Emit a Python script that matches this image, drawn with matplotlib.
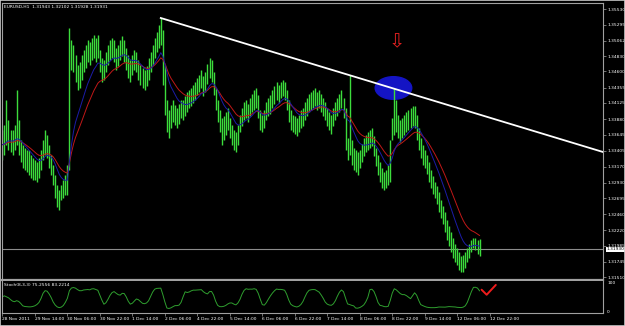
import numpy as np
import pandas as pd
import matplotlib
matplotlib.use('Agg')
import matplotlib.pyplot as plt
from matplotlib.patches import Ellipse
import matplotlib.transforms as mtransforms

# EURUSD H1 bars, prices in pips above 1.3000
high_pips = [
    372, 380, 417, 387, 372, 372, 380, 432, 387, 357, 350, 345, 342, 342, 335, 330,
    327, 324, 330, 342, 357, 372, 365, 350, 335, 320, 305, 290, 282, 290, 297, 305,
    320, 525, 507, 500, 485, 470, 474, 485, 492, 500, 507, 504, 510, 515, 510, 515,
    492, 480, 477, 489, 500, 507, 510, 507, 495, 500, 507, 513, 507, 495, 485, 477,
    485, 492, 489, 477, 470, 465, 462, 468, 480, 489, 500, 510, 519, 530, 540, 522,
    470, 417, 402, 410, 417, 410, 405, 411, 417, 417, 423, 429, 432, 435, 440, 444,
    450, 455, 462, 453, 459, 471, 480, 477, 459, 435, 417, 402, 390, 393, 399, 405,
    390, 380, 372, 369, 380, 395, 405, 414, 417, 411, 420, 426, 432, 435, 425, 402,
    395, 402, 414, 420, 425, 432, 438, 444, 440, 444, 447, 444, 432, 417, 402, 395,
    393, 390, 395, 402, 405, 414, 420, 426, 429, 432, 435, 429, 432, 426, 420, 414,
    405, 399, 395, 405, 414, 420, 426, 432, 420, 405, 360, 455, 357, 345, 342, 339,
    342, 351, 360, 365, 369, 372, 375, 363, 345, 335, 324, 315, 309, 312, 320, 357,
    390, 435, 417, 395, 387, 390, 395, 399, 402, 405, 408, 408, 395, 375, 360, 350,
    342, 335, 324, 312, 303, 294, 288, 279, 267, 258, 249, 237, 228, 219, 210, 201,
    195, 189, 183, 185, 189, 195, 201, 207, 210, 210, 207, 208,
]
low_pips = [
    327, 335, 350, 342, 339, 335, 342, 350, 335, 324, 315, 312, 309, 305, 300, 297,
    297, 294, 300, 312, 327, 335, 330, 315, 305, 290, 270, 256, 252, 267, 270, 275,
    275, 312, 462, 459, 444, 432, 435, 447, 459, 465, 474, 470, 477, 480, 474, 480,
    459, 444, 447, 459, 470, 477, 480, 474, 462, 468, 477, 483, 474, 462, 450, 444,
    455, 462, 459, 447, 440, 435, 432, 438, 447, 459, 470, 480, 489, 495, 500, 440,
    395, 369, 360, 375, 384, 380, 375, 381, 390, 387, 393, 399, 405, 408, 413, 417,
    425, 429, 435, 423, 429, 441, 450, 444, 425, 402, 384, 369, 350, 357, 365, 372,
    360, 350, 342, 339, 350, 369, 378, 387, 390, 384, 393, 399, 402, 405, 390, 372,
    369, 375, 387, 393, 396, 405, 411, 417, 413, 420, 423, 417, 402, 384, 372, 369,
    366, 363, 369, 375, 378, 387, 393, 399, 402, 405, 408, 402, 405, 399, 393, 387,
    378, 372, 366, 378, 387, 393, 399, 405, 390, 342, 327, 335, 320, 312, 309, 305,
    315, 324, 333, 339, 342, 345, 348, 333, 318, 305, 294, 285, 282, 285, 290, 294,
    357, 365, 369, 360, 354, 360, 365, 369, 372, 375, 378, 375, 357, 342, 330, 320,
    315, 306, 294, 285, 276, 270, 261, 249, 240, 231, 219, 207, 198, 189, 180, 174,
    170, 162, 159, 159, 165, 174, 180, 189, 195, 192, 186, 183,
]
close_pips = [
    350, 357, 369, 365, 357, 354, 360, 372, 357, 342, 335, 330, 327, 324, 320, 315,
    312, 309, 315, 327, 342, 350, 345, 330, 320, 305, 285, 270, 264, 275, 282, 290,
    297, 477, 485, 480, 462, 447, 455, 465, 477, 485, 492, 489, 495, 500, 492, 500,
    474, 459, 462, 474, 485, 492, 495, 489, 477, 483, 492, 497, 489, 477, 465, 459,
    470, 477, 474, 462, 455, 450, 447, 453, 462, 474, 485, 495, 504, 510, 522, 455,
    410, 384, 375, 390, 399, 395, 387, 393, 402, 399, 405, 411, 417, 420, 425, 429,
    435, 440, 447, 435, 441, 453, 465, 459, 440, 417, 399, 384, 372, 375, 380, 387,
    375, 363, 357, 354, 365, 380, 390, 399, 402, 395, 405, 411, 417, 420, 402, 384,
    380, 387, 399, 405, 410, 417, 423, 429, 425, 432, 435, 429, 417, 399, 387, 380,
    378, 375, 381, 387, 390, 399, 405, 411, 414, 417, 420, 414, 417, 411, 405, 399,
    390, 384, 380, 390, 399, 405, 411, 417, 402, 357, 342, 372, 335, 327, 324, 320,
    330, 339, 345, 350, 354, 357, 360, 345, 330, 320, 309, 300, 294, 297, 300, 342,
    372, 399, 387, 375, 369, 375, 380, 384, 387, 390, 393, 390, 372, 357, 345, 335,
    327, 318, 309, 297, 288, 282, 273, 264, 252, 243, 234, 222, 213, 204, 195, 186,
    180, 174, 168, 171, 177, 185, 192, 198, 206, 200, 196, 193,
]

time_labels = ['28 Nov 2011', '29 Nov 14:00', '30 Nov 06:00', '30 Nov 22:00',
               '1 Dec 14:00', '2 Dec 06:00', '4 Dec 22:00', '5 Dec 14:00',
               '6 Dec 06:00', '6 Dec 22:00', '7 Dec 14:00', '8 Dec 06:00',
               '8 Dec 22:00', '9 Dec 14:00', '12 Dec 06:00', '12 Dec 22:00']
bars_per_label = 16
price_ticks = [1.35530, 1.35295, 1.35062, 1.34830, 1.34600, 1.34355, 1.34125,
               1.33880, 1.33645, 1.33405, 1.33170, 1.32930, 1.32695, 1.32460,
               1.32220, 1.31985, 1.31745, 1.31510]
header = 'EURUSD,H1  1.31943 1.32102 1.31928 1.31931'
stoch_label = 'Stoch(8,3,3) 75.2556 83.2214'

high = 1.3 + np.array(high_pips) / 1e4
low = 1.3 + np.array(low_pips) / 1e4
close = 1.3 + np.array(close_pips) / 1e4
x = np.arange(len(close))

# indicators
c = pd.Series(close)
ema_fast = c.ewm(span=12, adjust=False).mean()
ema_slow = c.ewm(span=21, adjust=False).mean()
hh = pd.Series(high).rolling(8, min_periods=1).max()
ll = pd.Series(low).rolling(8, min_periods=1).min()
stoch = 100 * (c - ll).rolling(3, min_periods=1).sum() / (hh - ll).rolling(3, min_periods=1).sum()

W, H = 625, 326
fig = plt.figure(figsize=(W / 100, H / 100), dpi=100, facecolor='black')
ax = fig.add_axes([2 / W, 1 - 280 / H, 601 / W, 277 / H], facecolor='black')
ax2 = fig.add_axes([2 / W, 1 - 313 / H, 601 / W, 32 / H], facecolor='black', sharex=ax)

grey = '#a0a0a0'
small = 3.2

# price pane
ax.add_patch(Ellipse((192.6, 1.3435), 18, 0.0034, color='#1414c4', zorder=1))
ax.vlines(x, low, high, color='#3cdc3c', lw=1.0, zorder=2)
ax.plot(x, ema_slow, color='#c01818', lw=0.7, zorder=3)
ax.plot(x, ema_fast, color='#1c1ca8', lw=0.7, zorder=3)
ax.axhline(close[-1], color='#8c8c8c', lw=0.8, zorder=1)

xmax = 295.8
ax.plot([78, xmax], [high[78], 1.33390], color='white', lw=1.3, zorder=4)
ax.text(194.5, 1.3505, '\u21e9', color='#e02020', fontsize=14, ha='center', va='center', zorder=5)

ax.set_xlim(-0.2, xmax)
ax.set_ylim(1.31470, 1.35625)
ax.yaxis.tick_right()
ax.set_yticks(price_ticks)
ax.set_yticklabels([f'{p:.5f}' for p in price_ticks])
ax.tick_params(axis='y', colors=grey, labelcolor='white', labelsize=small, length=2, width=0.5, pad=1)
ax.tick_params(axis='x', bottom=False, labelbottom=False)
for s in ax.spines.values():
    s.set_color(grey)
    s.set_linewidth(0.8)
ax.spines['bottom'].set_linewidth(1.6)
ax.text(0.004, 0.993, header, transform=ax.transAxes, color='white', fontsize=small, va='top', ha='left')

tr = mtransforms.blended_transform_factory(ax.transAxes, ax.transData)
ax.text(1.006, close[-1], f'{close[-1]:.5f}', transform=tr, color='black', fontsize=small,
        va='center', ha='left', bbox=dict(boxstyle='square,pad=0.15', fc='white', ec='none'))

# stochastic pane
ax2.plot(x, stoch, color='#2f9f2f', lw=0.7)
ax2.plot([236, 238.5, 243], [76, 58, 93], color='#ee1c1c', lw=1.4, solid_capstyle='round')
ax2.set_ylim(-7, 107)
ax2.yaxis.tick_right()
ax2.set_yticks([0, 100])
ax2.set_yticklabels(['0', '100'])
ax2.tick_params(axis='y', colors=grey, labelcolor='white', labelsize=small, length=0, pad=3)
ticks = np.arange(len(time_labels)) * bars_per_label
ax2.set_xticks(ticks)
ax2.set_xticklabels(time_labels, ha='left')
ax2.tick_params(axis='x', colors=grey, labelcolor='white', labelsize=small, length=2, width=0.5, pad=1)
for s in ax2.spines.values():
    s.set_color(grey)
    s.set_linewidth(0.8)
ax2.spines['top'].set_visible(False)
ax2.text(0.004, 0.93, stoch_label, transform=ax2.transAxes, color='white', fontsize=small, va='top', ha='left')

# window frame
fig.patches.append(plt.Rectangle((0, 0), 1, 1, transform=fig.transFigure, fill=False,
                                 ec='#c8c8c8', lw=1.2))

fig.savefig('out.png', dpi=100, facecolor='black')
